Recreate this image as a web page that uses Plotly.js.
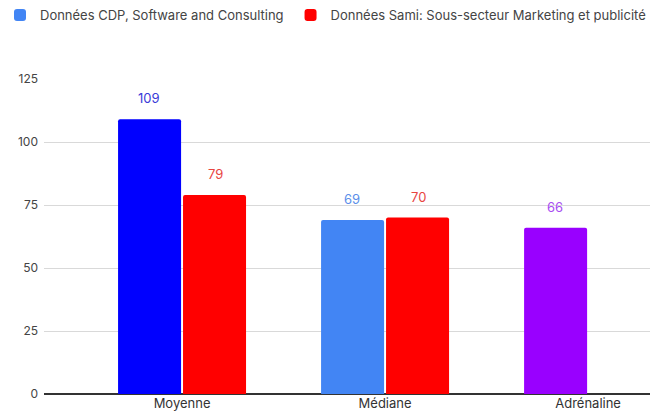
<!DOCTYPE html>
<html>
<head>
<meta charset="utf-8">
<script src="https://cdn.plot.ly/plotly-3.0.1.min.js"></script>
<style>html,body{margin:0;padding:0;background:#fff;}#chart{width:650px;height:412px;}</style>
</head>
<body>
<div id="chart"></div>
<script>
const categories = ["Moyenne", "Médiane", "Adrénaline"];
const cdpName = "Données CDP, Software and Consulting";
const samiName = "Données Sami: Sous-secteur Marketing et publicité";
const cdpValues = [109, 69, 66];
const samiValues = [79, 70, null];
const cdpColors = ["#0000ff", "#4285f4", "#9900ff"];
const samiColors = ["#ff0000", "#ff0000", "#ff0000"];
const cdpLabelColors = ["#3a3ad8", "#5b8fea", "#a84df2"];
const samiLabelColors = ["#e8453f", "#e8453f", "#e8453f"];
const cdpLegendColor = "#4285f4";
const samiLegendColor = "#ff0000";

const font = "Inter, Roboto, Arial, sans-serif";

const traces = [
  {type: "bar", name: cdpName, x: categories, y: cdpValues, offsetgroup: "a",
   marker: {color: cdpColors}, showlegend: false, hoverinfo: "none"},
  {type: "bar", name: samiName, x: categories, y: samiValues, offsetgroup: "b",
   marker: {color: samiColors}, showlegend: false, hoverinfo: "none"},
  {type: "bar", name: cdpName, x: [categories[0]], y: [null], offsetgroup: "a",
   marker: {color: cdpLegendColor}, showlegend: true, legend: "legend", hoverinfo: "none"},
  {type: "bar", name: samiName, x: [categories[0]], y: [null], offsetgroup: "b",
   marker: {color: samiLegendColor}, showlegend: true, legend: "legend2", hoverinfo: "none"}
];

const annotations = [];
categories.forEach((c, i) => {
  if (cdpValues[i] != null) annotations.push({x: c, y: cdpValues[i], text: String(cdpValues[i]),
    xshift: -33, yshift: 21, yanchor: "middle", showarrow: false,
    font: {family: font, size: 13, color: cdpLabelColors[i]}});
  if (samiValues[i] != null) annotations.push({x: c, y: samiValues[i], text: String(samiValues[i]),
    xshift: 33, yshift: 21, yanchor: "middle", showarrow: false,
    font: {family: font, size: 13, color: samiLabelColors[i]}});
});

const legendFont = {family: font, size: 13, color: "#444"};

const layout = {
  width: 650, height: 412,
  margin: {l: 44, r: 0, t: 79, b: 18},
  paper_bgcolor: "#fff", plot_bgcolor: "#fff",
  font: {family: font, size: 12, color: "#444"},
  barmode: "group", bargap: 0.36, bargroupgap: 0.03,
  barcornerradius: 2,
  showlegend: true,
  legend: {orientation: "h", x: 0, xanchor: "left", y: 1, yanchor: "top",
    yref: "container", xref: "container", font: legendFont, itemwidth: 30},
  legend2: {orientation: "h", x: 0.447, xanchor: "left", y: 1, yanchor: "top",
    yref: "container", xref: "container", font: legendFont, itemwidth: 30},
  xaxis: {type: "category", range: [-0.68, 2.305], showgrid: false, zeroline: false,
    showline: false, ticks: "",
    tickfont: {family: font, size: 13, color: "#333"}},
  yaxis: {range: [0, 125], tickvals: [0, 25, 50, 75, 100, 125], showgrid: true,
    gridcolor: "#d9d9d9", zeroline: true, zerolinecolor: "#333", zerolinewidth: 1.3,
    showline: false, ticks: "", ticklabelstandoff: 5,
    tickfont: {family: font, size: 12, color: "#444"}},
  annotations: annotations
};

Plotly.newPlot("chart", traces, layout, {displayModeBar: false, staticPlot: true});
</script>
</body>
</html>
